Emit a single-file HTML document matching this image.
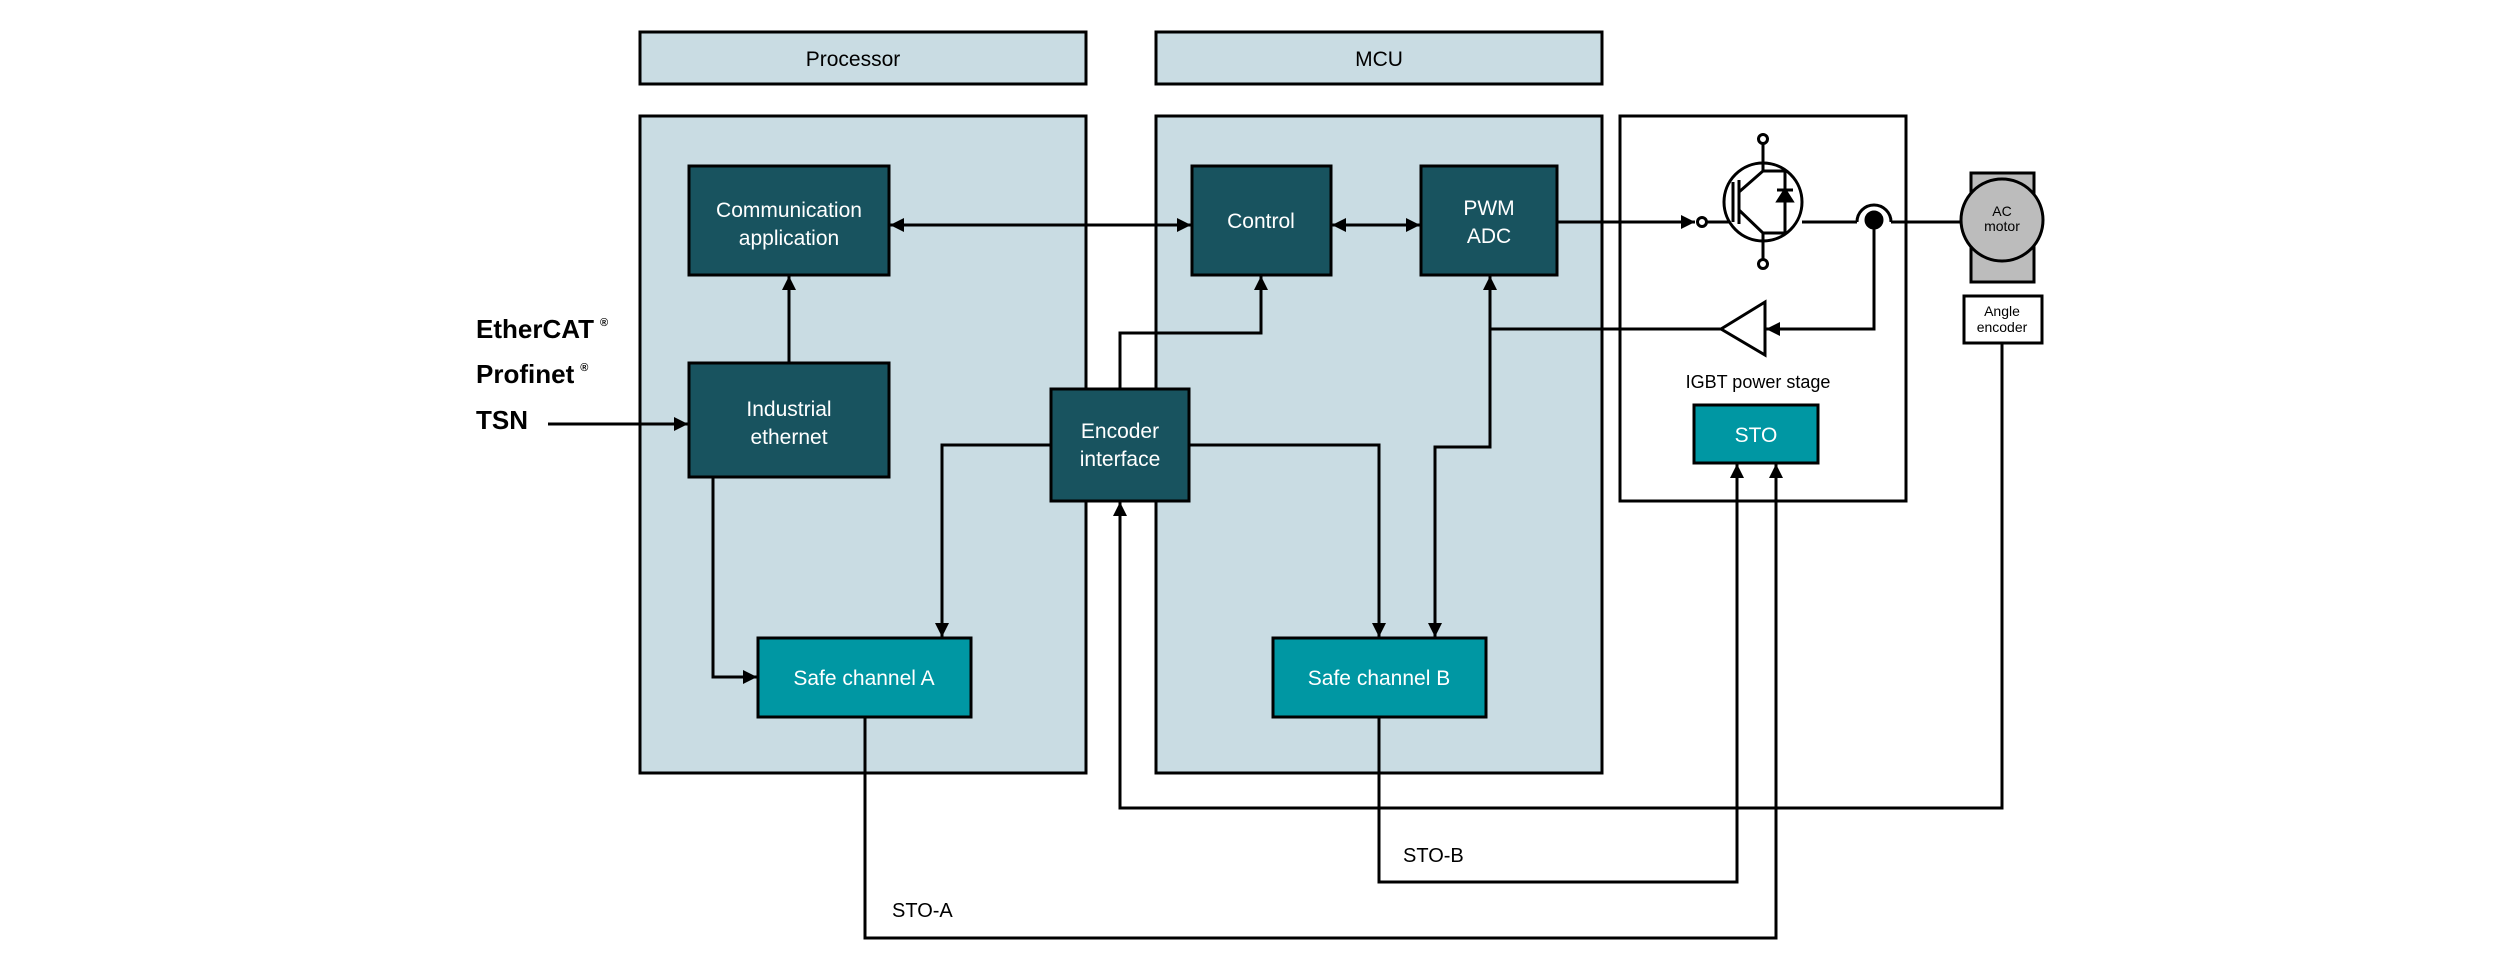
<!DOCTYPE html>
<html><head><meta charset="utf-8"><style>
html,body{margin:0;padding:0;background:#fff}
svg{display:block}
text{font-family:"Liberation Sans",sans-serif}
</style></head><body>
<svg width="2520" height="975" viewBox="0 0 2520 975" xmlns="http://www.w3.org/2000/svg">
<defs>
<marker id="a" viewBox="0 0 10 10" refX="10" refY="5" markerWidth="22" markerHeight="14" markerUnits="userSpaceOnUse" orient="auto-start-reverse"><path d="M0,0 L10,5 L0,10 z" fill="#000"/></marker>
</defs>
<g stroke="#000" stroke-width="3" fill="#c9dce3">
<rect x="640" y="32" width="446" height="52"/>
<rect x="1156" y="32" width="446" height="52"/>
<rect x="640" y="116" width="446" height="657"/>
<rect x="1156" y="116" width="446" height="657"/>
<rect x="1620" y="116" width="286" height="385" fill="#fff"/>
</g>
<g font-size="21" text-anchor="middle" fill="#000">
<text x="853" y="66">Processor</text>
<text x="1379" y="66">MCU</text>
</g>
<g stroke="#000" stroke-width="3" fill="#18535f">
<rect x="689" y="166" width="200" height="109"/>
<rect x="689" y="363" width="200" height="114"/>
<rect x="1051" y="389" width="138" height="112"/>
<rect x="1192" y="166" width="139" height="109"/>
<rect x="1421" y="166" width="136" height="109"/>
<rect x="758" y="638" width="213" height="79" fill="#0097a3"/>
<rect x="1273" y="638" width="213" height="79" fill="#0097a3"/>
<rect x="1694" y="405" width="124" height="58" fill="#0097a3"/>
</g>
<g font-size="21" text-anchor="middle" fill="#fff">
<text x="789" y="217">Communication</text><text x="789" y="245">application</text>
<text x="789" y="416">Industrial</text><text x="789" y="444">ethernet</text>
<text x="1120" y="438">Encoder</text><text x="1120" y="466">interface</text>
<text x="1261" y="228">Control</text>
<text x="1489" y="215">PWM</text><text x="1489" y="243">ADC</text>
<text x="864" y="685">Safe channel A</text>
<text x="1379" y="685">Safe channel B</text>
<text x="1756" y="442">STO</text>
</g>
<g font-size="26" font-weight="bold" fill="#000">
<text x="476" y="338">EtherCAT<tspan font-size="11" dy="-12" dx="6">®</tspan></text>
<text x="476" y="383">Profinet<tspan font-size="11" dy="-12" dx="6">®</tspan></text>
<text x="476" y="429">TSN</text>
</g>
<g font-size="20" fill="#000">
<text x="1758" y="388" text-anchor="middle" font-size="18">IGBT power stage</text>
<text x="1403" y="862">STO-B</text>
<text x="892" y="917">STO-A</text>
</g>
<g stroke="#000" stroke-width="3" fill="none">
<line x1="548" y1="424" x2="688" y2="424" marker-end="url(#a)"/>
<line x1="789" y1="363" x2="789" y2="276" marker-end="url(#a)"/>
<polyline points="713,477 713,677 757,677" marker-end="url(#a)"/>
<line x1="890" y1="225" x2="1191" y2="225" marker-start="url(#a)" marker-end="url(#a)"/>
<line x1="1332" y1="225" x2="1420" y2="225" marker-start="url(#a)" marker-end="url(#a)"/>
<line x1="1557" y1="222" x2="1695" y2="222" marker-end="url(#a)"/>
<polyline points="1120,389 1120,333 1261,333 1261,276" marker-end="url(#a)"/>
<polyline points="1051,445 942,445 942,637" marker-end="url(#a)"/>
<polyline points="1189,445 1379,445 1379,637" marker-end="url(#a)"/>
<polyline points="1721,329 1490,329 1490,276" marker-end="url(#a)"/>
<polyline points="1490,329 1490,447 1435,447 1435,637" marker-end="url(#a)"/>
<polyline points="2002,342 2002,808 1120,808 1120,502" marker-end="url(#a)"/>
<polyline points="1379,717 1379,882 1737,882 1737,464" marker-end="url(#a)"/>
<polyline points="865,717 865,938 1776,938 1776,464" marker-end="url(#a)"/>
<polyline points="1874,222 1874,329 1766,329" marker-end="url(#a)"/>
<polygon points="1721,329 1765,302 1765,355" fill="#fff"/>
<circle cx="1702" cy="222" r="4.5" fill="#fff"/>
<line x1="1707" y1="222" x2="1729" y2="222"/>
<circle cx="1763" cy="202" r="39"/>
<line x1="1733" y1="182" x2="1733" y2="222"/>
<line x1="1739" y1="180" x2="1739" y2="224"/>
<polyline points="1739,192 1763,171 1763,143"/>
<polyline points="1763,171 1785,171 1785,233 1763,233"/>
<polyline points="1739,210 1763,233 1763,262"/>
<circle cx="1763" cy="139" r="4.5" fill="#fff"/>
<circle cx="1763" cy="264" r="4.5" fill="#fff"/>
<line x1="1777" y1="190" x2="1793" y2="190"/>
<polygon points="1785,190 1778,201 1792,201" fill="#000"/>
<line x1="1802" y1="222" x2="1857" y2="222"/>
<path d="M1857,222 A17,17 0 0 1 1891,222"/>
<line x1="1891" y1="222" x2="1962" y2="222"/>
<circle cx="1874" cy="220" r="8" fill="#000"/>
<rect x="1971" y="173" width="63" height="109" fill="#bcbcbc"/>
<circle cx="2002" cy="220" r="41" fill="#bcbcbc"/>
<rect x="1964" y="296" width="78" height="47" fill="#fff"/>
</g>
<g font-size="14" text-anchor="middle" fill="#000">
<text x="2002" y="216">AC</text><text x="2002" y="231">motor</text>
<text x="2002" y="316">Angle</text><text x="2002" y="332">encoder</text>
</g>
</svg>
</body></html>
